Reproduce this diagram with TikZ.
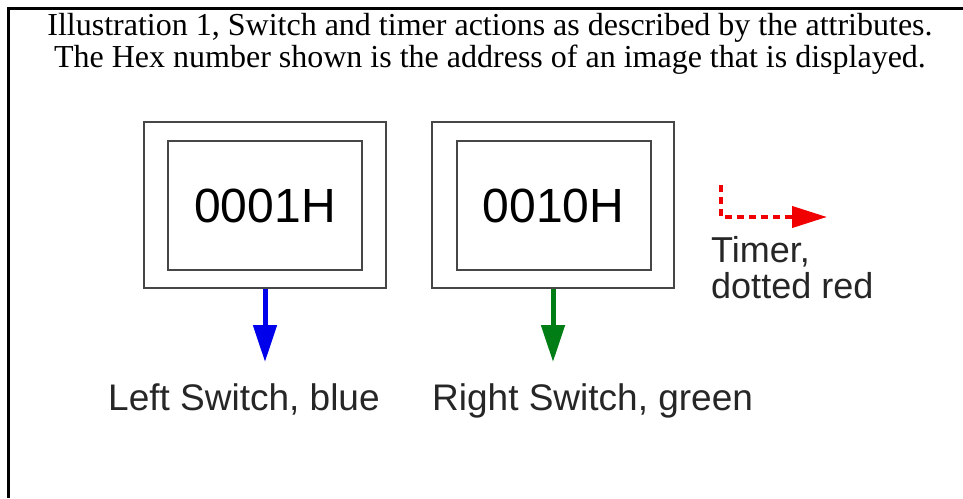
\documentclass[tikz,border=0pt]{standalone}
\usepackage{fontspec}
\setmainfont{Liberation Serif}
\newfontfamily\labelfont{Liberation Sans}
\usetikzlibrary{arrows.meta}
\definecolor{boxgray}{RGB}{70,70,70}
\definecolor{swblue}{RGB}{0,0,235}
\definecolor{swgreen}{RGB}{0,125,20}
\definecolor{tmred}{RGB}{240,0,0}
\tikzset{
  caption/.style={font=\fontsize{32}{36}\selectfont, anchor=base, inner sep=0pt},
  outerbox/.style={draw=boxgray, line width=2pt, minimum width=242pt, minimum height=166pt, inner sep=0pt},
  innerbox/.style={draw=boxgray, line width=2pt, minimum width=194pt, minimum height=129pt, inner sep=0pt,
    font=\labelfont\fontsize{48}{56}\selectfont},
  sans/.style={font=\labelfont\fontsize{36}{36}\selectfont, anchor=base west, inner sep=0pt, text=black!85},
  bigsans/.style={sans, font=\labelfont\fontsize{37}{37}\selectfont},
  switcharrow/.style={line width=5pt, -{Triangle[length=37pt,width=23pt]}},
  timerarrow/.style={tmred, line width=4pt, dash pattern=on 7pt off 5pt, -{Triangle[length=35pt,width=21pt]}}
}
\begin{document}
\begin{tikzpicture}[x=1pt,y=-1pt]
  \useasboundingbox (0,0) rectangle (963,498);
  % frame
  \draw[line width=3pt] (8,498) -- (8,8) -- (963,8);
  % caption
  \node[caption] (cap1) at (490,35) {Illustration 1, Switch and timer actions as described by the attributes.};
  \node[caption] (cap2) at (490,67) {The Hex number shown is the address of an image that is displayed.};
  % left display
  \node[outerbox] (outL) at (265,205) {};
  \node[innerbox] (inL) at (265,205.5) {0001H};
  % right display
  \node[outerbox] (outR) at (553,205) {};
  \node[innerbox] (inR) at (553.5,205.5) {0010H};
  % switch arrows
  \coordinate (tipL) at (265,362);
  \coordinate (tipR) at (553,362);
  \draw[switcharrow, swblue] (outL.south) -- (tipL);
  \draw[switcharrow, swgreen] (outR.south) -- (tipR);
  \node[bigsans] (labL) at (108,410) {Left Switch, blue};
  \node[bigsans] (labR) at (432,410) {Right Switch, green};
  % timer arrow
  \coordinate (tmA) at (721,185);
  \coordinate (tmB) at (721,217);
  \coordinate (tmC) at (827,217);
  \draw[timerarrow] (tmA) -- (tmB) -- (tmC);
  \node[sans] (tm1) at (711,262) {Timer,};
  \node[sans] (tm2) at (711,298) {dotted red};
\end{tikzpicture}
\end{document}
